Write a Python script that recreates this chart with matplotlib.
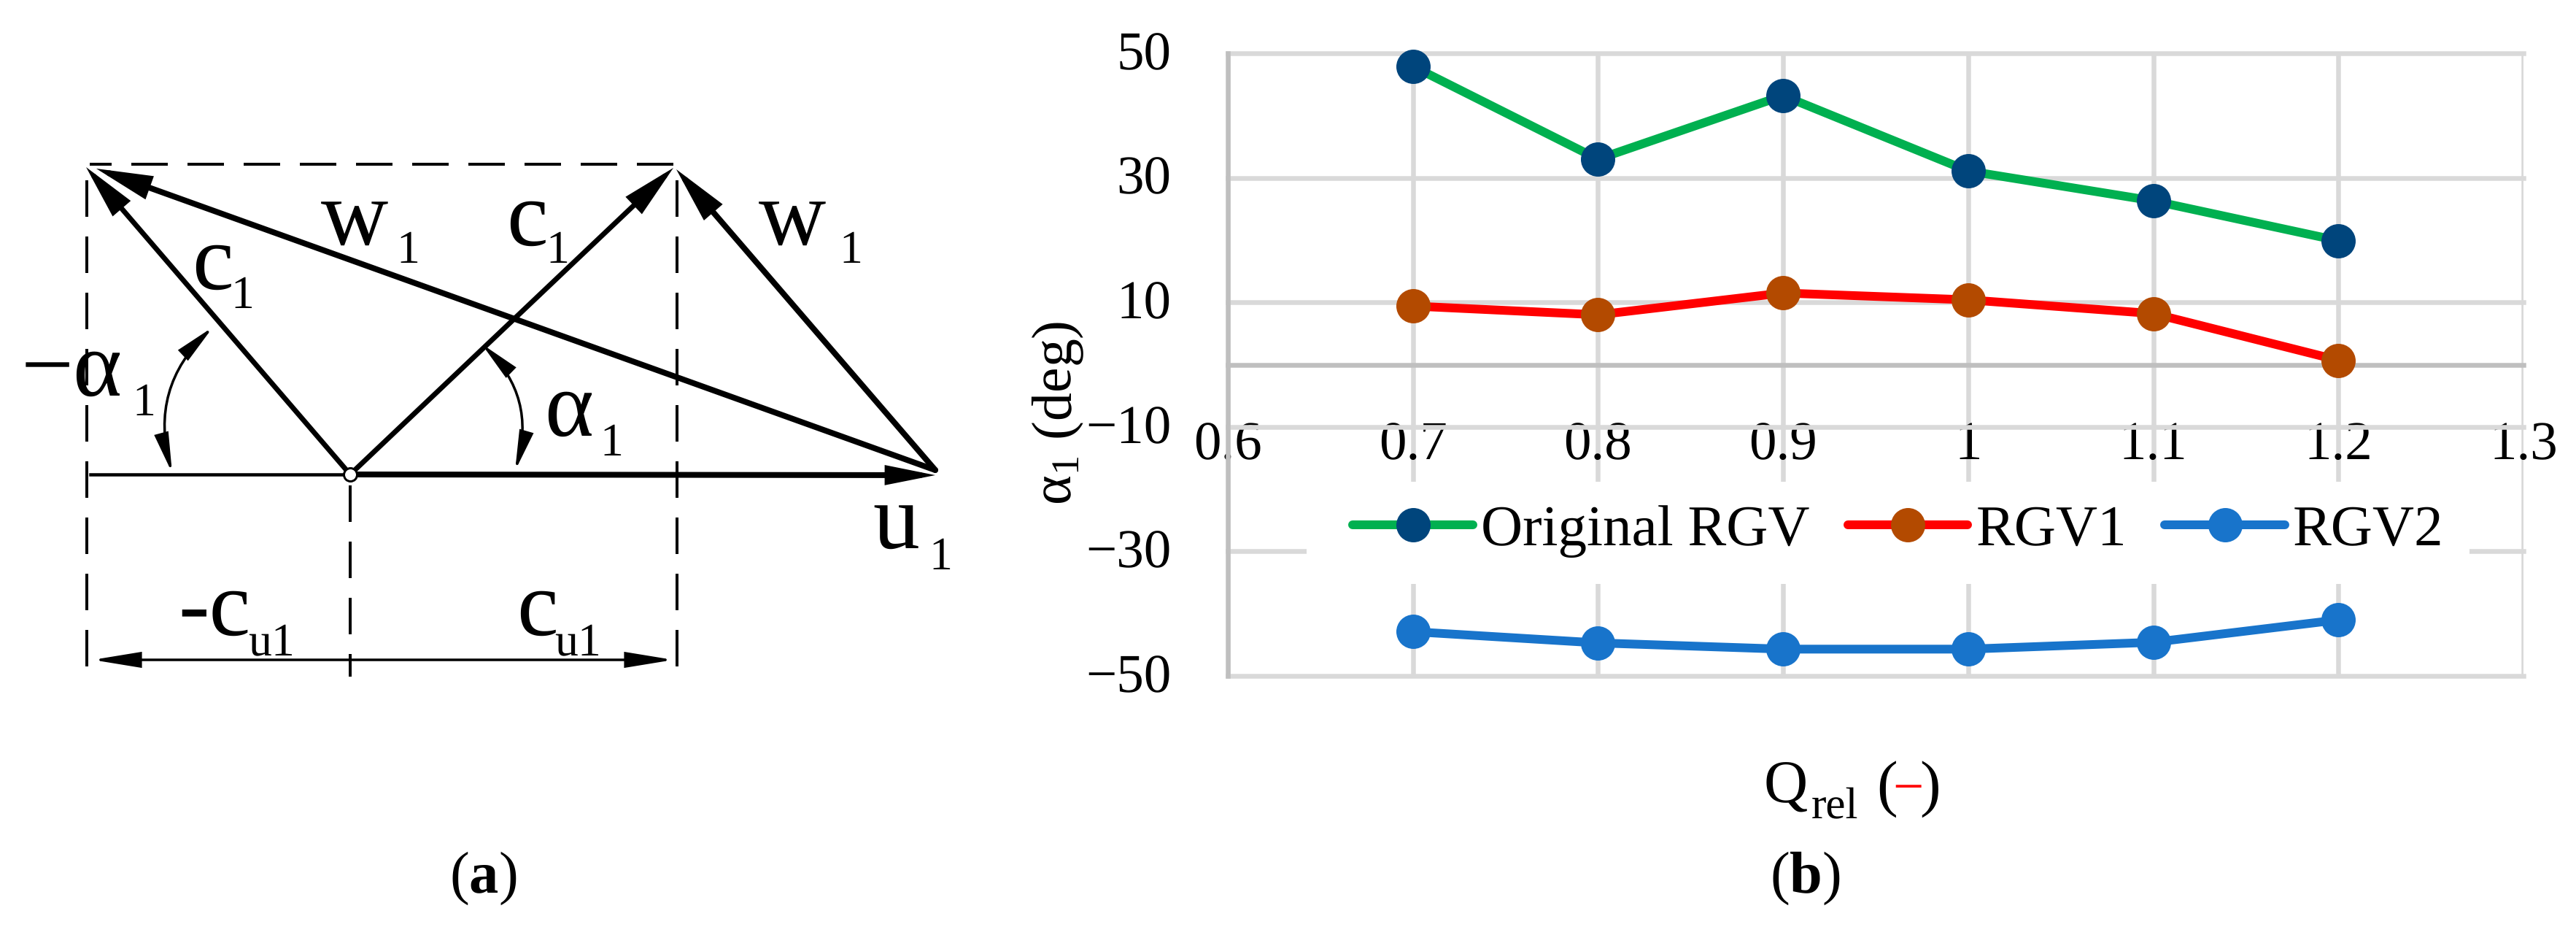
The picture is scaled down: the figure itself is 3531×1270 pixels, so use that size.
import matplotlib
matplotlib.use("Agg")
import matplotlib.pyplot as plt
from matplotlib.patches import FancyArrowPatch, Rectangle
from matplotlib.transforms import ScaledTranslation

# ── Data ──────────────────────────────────────────────────────────────────────

Q_REL        = [0.7, 0.8, 0.9, 1.0, 1.1, 1.2]
ORIGINAL_RGV = [47.9, 33.0, 43.2, 31.1, 26.3, 19.9]
RGV1         = [9.4, 8.0, 11.5, 10.4, 8.2, 0.7]
RGV2         = [-42.9, -44.7, -45.7, -45.7, -44.6, -41.0]

X_TICKS       = [0.6, 0.7, 0.8, 0.9, 1.0, 1.1, 1.2, 1.3]
X_TICK_LABELS = ["0.6", "0.7", "0.8", "0.9", "1", "1.1", "1.2", "1.3"]
Y_TICKS       = [50, 30, 10, -10, -30, -50]
Y_TICK_LABELS = ["50", "30", "10", "−10", "−30", "−50"]

# ── Colors ────────────────────────────────────────────────────────────────────

GREEN  = "#00b050"
NAVY   = "#00457c"
RED    = "#ff0000"
BROWN  = "#b34a00"
BLUE   = "#1874cb"
GRID   = "#d9d9d9"
AXIS_C = "#bfbfbf"

W, H = 3531, 1270
PX = 0.72  # pixels to points at dpi 100

plt.rcParams["font.family"] = ["Liberation Serif", "DejaVu Serif"]
plt.rcParams["mathtext.fontset"] = "custom"
plt.rcParams["mathtext.rm"] = "Liberation Serif"
plt.rcParams["mathtext.it"] = "Liberation Serif"
plt.rcParams["mathtext.bf"] = "Liberation Serif:bold"
plt.rcParams["text.hinting"] = "none"

fig = plt.figure(figsize=(W / 100, H / 100), dpi=100, facecolor="white")

# overlay in image pixels, for the sketch (a) and loose labels
ov = fig.add_axes([0, 0, 1, 1], zorder=5)
ov.set_xlim(0, W)
ov.set_ylim(H, 0)
ov.axis("off")
ov.patch.set_alpha(0)

# ── Panel (b) ─────────────────────────────────────────────────────────────────

left, right, top, bottom = 1683, 3459, 73, 926
ax = fig.add_axes([left / W, 1 - bottom / H, (right - left) / W, (bottom - top) / H])
ax.set_xlim(0.6, 1.3)
ax.set_ylim(-50, 50)
ax.set_axisbelow(True)
ax.grid(True, color=GRID, linewidth=6.5 * PX)
ax.set_xticks(X_TICKS, X_TICK_LABELS)
ax.set_yticks(Y_TICKS, Y_TICK_LABELS)
ax.tick_params(axis="x", length=0, labelsize=54, pad=56)
ax.tick_params(axis="y", length=0, labelsize=54, pad=56)

# outer gridlines keep their full width
for line in ax.xaxis.get_gridlines() + ax.yaxis.get_gridlines():
    line.set_clip_on(False)

# y labels sit a little above their gridlines
up = ScaledTranslation(0, 4 / 100, fig.dpi_scale_trans)
for lab in ax.get_yticklabels():
    lab.set_transform(lab.get_transform() + up)

ax.spines["top"].set_visible(False)
ax.spines["right"].set_visible(False)
ax.spines["bottom"].set_position(("data", 0))
ax.spines["bottom"].set_color(AXIS_C)
ax.spines["bottom"].set_linewidth(6.5 * PX)
ax.spines["left"].set_color(AXIS_C)
ax.spines["left"].set_linewidth(6.5 * PX)

# white box of the legend hides the gridlines behind it
ax.add_patch(Rectangle((1791, 660), 1594, 140, transform=ov.transData,
                       facecolor="white", edgecolor="none", zorder=1.5, clip_on=False))

series = [
    ("Original RGV", ORIGINAL_RGV, GREEN, NAVY),
    ("RGV1", RGV1, RED, BROWN),
    ("RGV2", RGV2, BLUE, BLUE),
]
for name, values, line_c, marker_c in series:
    ax.plot(Q_REL, values, color=line_c, linewidth=12 * PX, marker="o",
            markersize=47 * PX, markerfacecolor=marker_c, markeredgewidth=0,
            solid_capstyle="round", clip_on=False, zorder=3, label=name)

ax.legend(loc="center", bbox_to_anchor=(2602 / W, 1 - 728 / H), bbox_transform=fig.transFigure,
          ncol=3, frameon=False, fontsize=57, handlelength=2.08, handletextpad=0.14,
          columnspacing=0.66, borderpad=0, labelspacing=0)

ov.text(1450, 566, r"$\mathrm{\alpha}_{1}$ (deg)", fontsize=56, rotation=90, ha="center", va="center")

# Q_rel (−), with its red dash
ov.text(2418, 1100, "Q", fontsize=60, ha="left", va="baseline")
ov.text(2483, 1120, "rel", fontsize=44, ha="left", va="baseline")
ov.text(2572, 1102, "(", fontsize=62, ha="left", va="baseline")
ov.text(2615, 1102, "−", fontsize=54, ha="center", va="baseline", color=RED)
ov.text(2660, 1102, ")", fontsize=62, ha="right", va="baseline")

ov.text(2474, 1203, r"($\mathbf{b}$)", fontsize=58, ha="center", va="center")
ov.text(662, 1203, r"($\mathbf{a}$)", fontsize=58, ha="center", va="center")

# ── Panel (a) ─────────────────────────────────────────────────────────────────

DASH = (0, (50 / 4, 27 / 4))

ov.plot([923, 123], [225, 225], color="black", lw=4 * PX, linestyle=DASH, dash_capstyle="butt")
ov.plot([119, 119], [247, 917], color="black", lw=4 * PX, linestyle=DASH, dash_capstyle="butt")
ov.plot([928, 928], [247, 917], color="black", lw=4 * PX, linestyle=DASH, dash_capstyle="butt")
ov.plot([480, 480], [665, 927], color="black", lw=4 * PX, linestyle=DASH, dash_capstyle="butt")
ov.plot([124, 480], [650, 650], color="black", lw=4.5 * PX)


def arrow(a, b, lw, style="-|>", hl=55, hw=12, rad=0.0):
    ov.add_patch(FancyArrowPatch(
        a, b, arrowstyle=f"{style},head_length={hl * PX},head_width={hw * PX}",
        connectionstyle=f"arc3,rad={rad}", mutation_scale=1, linewidth=lw * PX,
        color="black", shrinkA=0, shrinkB=0, joinstyle="miter"))


# velocity triangle
arrow((480, 650), (1282, 651), 8, hl=45, hw=9)
arrow((480, 650), (118, 229), 7)
arrow((480, 650), (923, 230), 7)
arrow((1282, 644), (132, 231), 8)
arrow((1282, 644), (927, 232), 8)

# dimension line and angle arcs
arrow((127, 904), (923, 904), 3.5, style="<|-|>", hl=55, hw=9)
arrow((236, 648), (292, 448), 3.5, style="<|-|>", hl=45, hw=8, rad=-0.3)
arrow((706, 645), (660, 471), 3.5, style="<|-|>", hl=45, hw=8, rad=0.3)

ov.plot([480], [650], marker="o", markersize=18 * PX, markerfacecolor="white",
        markeredgecolor="black", markeredgewidth=3 * PX, zorder=6)

# (x, baseline, text, font size)
sketch_labels = [
    (440, 336, "w", 92), (543, 360, "1", 46),
    (263, 396, "c", 92), (316, 422, "1", 46),
    (694, 336, "c", 92), (748, 360, "1", 46),
    (1040, 336, "w", 92), (1150, 360, "1", 46),
    (29, 542, "−α", 92), (181, 569, "1", 46),
    (746, 597, "α", 92), (822, 624, "1", 46),
    (1196, 752, "u", 92), (1273, 780, "1", 46),
    (244, 870, "-c", 92), (340, 897, "u1", 46),
    (708, 870, "c", 92), (760, 897, "u1", 46),
]
for x, y, s, size in sketch_labels:
    ov.text(x, y, s, fontsize=size, ha="left", va="baseline")

fig.savefig("out.png", dpi=100, facecolor="white")
